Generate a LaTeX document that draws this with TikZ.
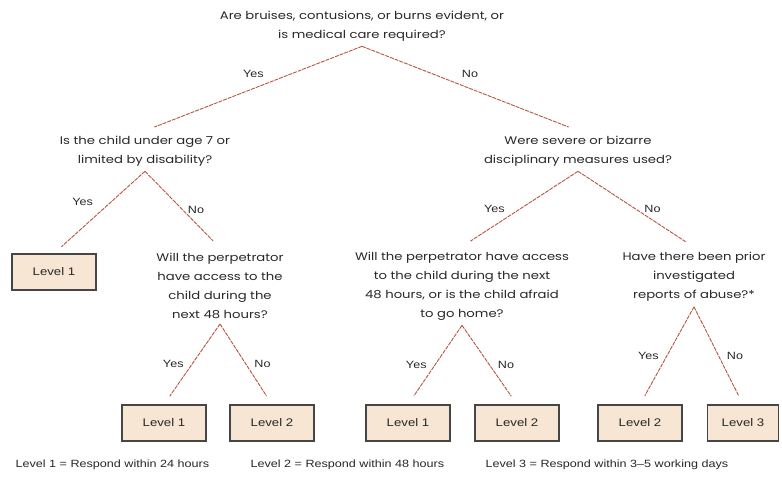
\documentclass[tikz,border=0pt]{standalone}
\usepackage{fontspec}
\setmainfont[FakeStretch=1.2]{Liberation Sans}
\newfontfamily\qfont[FakeStretch=1.2]{Poppins}
\usepackage{xcolor}
\definecolor{cpred}{RGB}{184,84,62}
\definecolor{cpbox}{RGB}{246,230,211}
\definecolor{cpedge}{RGB}{70,70,70}
\definecolor{cptext}{RGB}{40,40,40}
\usetikzlibrary{positioning}

\begin{document}
\begin{tikzpicture}[
  x=1pt,y=-1pt,
  every node/.style={font=\fontsize{10.5}{18.5}\selectfont,text=cptext},
  question/.style={align=center,inner xsep=2pt,inner ysep=5pt,
                   font=\qfont\fontsize{11}{19}\selectfont},
  levelbox/.style={draw=cpedge,line width=1.1pt,fill=cpbox,minimum width=84pt,
                   minimum height=36pt,inner sep=0pt,font=\fontsize{11}{12}\selectfont},
  branch/.style={draw=cpred,line width=0.9pt,dash pattern=on 4pt off 1pt,shorten >=10pt},
  yeslab/.style={midway,left=#1,inner sep=1pt},
  yeslab/.default=7pt,
  nolab/.style={midway,right=#1,inner sep=1pt},
  nolab/.default=7pt,
]
  \useasboundingbox (0,0) rectangle (782,485);

  % Questions
  \node[question] (abuse) at (362,26) {Are bruises, contusions, or burns evident, or\\is medical care required?};
  \node[question] (young) at (145,151) {Is the child under age 7 or\\limited by disability?};
  \node[question] (severe) at (578,151) {Were severe or bizarre\\disciplinary measures used?};
  \node[question] (accessa) at (220,286) {Will the perpetrator\\have access to the\\child during the\\next 48 hours?};
  \node[question] (accessb) at (462,286) {Will the perpetrator have access\\to the child during the next\\48 hours, or is the child afraid\\to go home?};
  \node[question] (prior) at (694,277) {Have there been prior\\investigated\\reports of abuse?*};

  % Levels
  \node[levelbox] (lva) at (54,272) {Level 1};
  \node[levelbox] (lvb) at (164,423) {Level 1};
  \node[levelbox] (lvc) at (272,423) {Level 2};
  \node[levelbox] (lvd) at (408,423) {Level 1};
  \node[levelbox] (lve) at (517,423) {Level 2};
  \node[levelbox] (lvf) at (640,423) {Level 2};
  \node[levelbox,minimum width=71pt] (lvg) at (743,423) {Level 3};

  % Branches
  \draw[branch] (abuse.south) -- (young.north) node[midway,above=7pt] {Yes};
  \draw[branch] (abuse.south) -- (severe.north) node[midway,above=7pt] {No};
  \draw[branch] (young.south) -- (lva.north) node[midway,above left=4pt] {Yes};
  \draw[branch] (young.south) -- (accessa.north) node[nolab=4pt] {No};
  \draw[branch] (severe.south) -- (accessb.north) node[yeslab=14pt] {Yes};
  \draw[branch] (severe.south) -- (prior.north) node[nolab] {No};
  \draw[branch] (accessa.south) -- (lvb.north) node[yeslab] {Yes};
  \draw[branch] (accessa.south) -- (lvc.north) node[nolab] {No};
  \draw[branch] (accessb.south) -- (lvd.north) node[yeslab] {Yes};
  \draw[branch] (accessb.south) -- (lve.north) node[nolab] {No};
  \draw[branch] (prior.south) -- (lvf.north) node[yeslab] {Yes};
  \draw[branch] (prior.south) -- (lvg.north) node[nolab] {No};

  % Key
  \node[anchor=west] (keya) at (12,465) {Level 1 = Respond within 24 hours};
  \node[anchor=west] (keyb) at (247,465) {Level 2 = Respond within 48 hours};
  \node[anchor=west] (keyc) at (482,465) {Level 3 = Respond within 3--5 working days};
\end{tikzpicture}
\end{document}
